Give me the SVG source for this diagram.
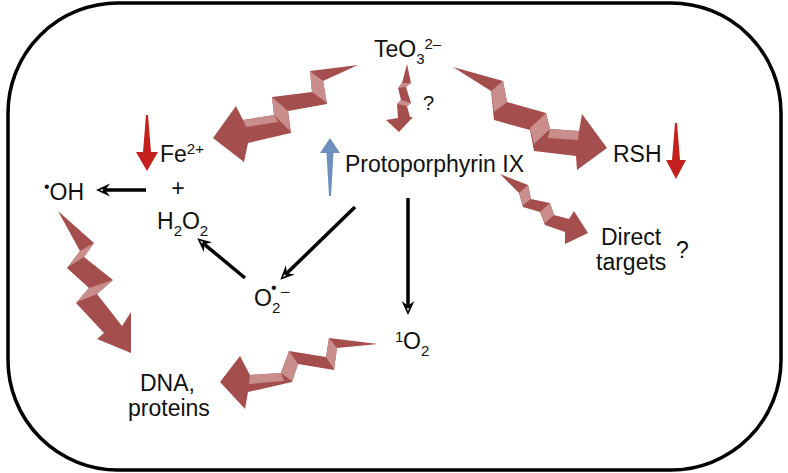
<svg xmlns="http://www.w3.org/2000/svg" width="788" height="473" viewBox="0 0 788 473">
<style>
text{font-family:"Liberation Sans",Arial,Helvetica,sans-serif;font-size:23px;fill:#111}
.sm{font-size:15px}
.zz{fill:#a44f4e}
.lt{fill:#c98d8b}
.conn line{stroke:#000;stroke-width:3.5;fill:none}
</style>
<defs>
<marker id="ah" viewBox="0 0 12 12" refX="6" refY="6" markerWidth="14" markerHeight="14" markerUnits="userSpaceOnUse" orient="auto">
<path d="M0,0.5 L12,6 L0,11.5 L4,6 Z" fill="#000"/>
<path d="M6,5.2 L9,6 L6,6.8 Z" fill="#fff"/>
</marker>
</defs>
<rect id="cell" x="8" y="3" width="773" height="467" rx="110" ry="110" fill="#fff" stroke="#000" stroke-width="3.5"/>

<g id="zigzags">
<g id="z-teo3-fe">
<polygon class="zz" points="358,65 310,71 312,92 272,97 274,115 243,120 236,106 213,138 244,162 248,143 291,133 288,111 327,104 323,81"/>
<polygon class="lt" points="310,71 323,81 327,103 312,92"/>
<polygon class="lt" points="272,97 288,111 290,131 274,115"/>
<polygon class="lt" points="243,120 274,115 278,122 246,127"/>
</g>
<g id="z-teo3-rsh">
<polygon class="zz" points="453,67 503,81 507,102 546,113 550,129 579,131 582,114 607,148 577,170 576,156 534,151 530,130 494,120 491,91"/>
<polygon class="lt" points="491,91 503,81 507,102 494,112"/>
<polygon class="lt" points="530,128 546,113 550,129 534,144"/>
<polygon class="lt" points="550,129 579,131 578,140 548,138"/>
</g>
<g id="z-teo3-pp">
<polygon class="zz" points="407,64 411,83 406,87 411,103 407,106 410,117 413,117 399,132 386,120 398,118 397,104 401,100 398,88 402,83"/>
<polygon class="lt" points="402,83 411,83 406,87 398,88"/>
<polygon class="lt" points="401,100 411,103 407,106 397,104"/>
</g>
<g id="z-pp-direct">
<polygon class="zz" points="500,174 528,185 531,199 550,203 554,215 569,219 574,211 588,233 565,244 565,232 545,225 540,212 523,207 519,193"/>
<polygon class="lt" points="519,193 528,185 531,199 523,205"/>
<polygon class="lt" points="540,212 550,203 554,215 545,223"/>
</g>
<g id="z-oh-dna">
<polygon class="zz" points="58,211 94,243 84,257 113,280 97,294 122,326 131,312 131,353 97,339 104,333 76,303 89,288 67,268 80,251"/>
<polygon class="lt" points="80,251 94,243 84,257 68,267"/>
<polygon class="lt" points="89,288 113,280 97,294 77,302"/>
</g>
<g id="z-1o2-dna">
<polygon class="zz" points="378,344 329,338 326,357 289,351 281,373 250,375 240,356 220,382 245,409 248,392 292,382 298,364 334,370 337,348"/>
<polygon class="lt" points="329,338 337,348 334,369 326,357"/>
<polygon class="lt" points="289,351 298,364 292,381 281,373"/>
<polygon class="lt" points="250,375 281,373 284,381 249,384"/>
</g>
</g>

<g id="level-arrows">
<path id="fe-down" d="M146,115 L148,115 L151,152 L158,152 L147,171 L136,152 L143,152 Z" fill="#c3211d"/>
<path id="rsh-down" d="M675,123 L677,123 L680,160 L686,160 L676,179 L666,160 L672,160 Z" fill="#c3211d"/>
<path id="pp-up" d="M330,138 L340,153 L333.5,153 L331,196 L329,196 L326.5,153 L320,153 Z" fill="#6d8fbd"/>
</g>

<g class="conn" id="connectors">
<line x1="146" y1="190" x2="103" y2="190" marker-end="url(#ah)"/>
<line x1="245" y1="278" x2="202.6" y2="242.8" marker-end="url(#ah)"/>
<line x1="355" y1="207" x2="285.3" y2="274.8" marker-end="url(#ah)"/>
<line x1="408" y1="198" x2="408" y2="308" marker-end="url(#ah)"/>
</g>

<g id="n-teo3"><text x="374" y="57">TeO<tspan class="sm" dy="7">3</tspan><tspan class="sm" dy="-15">2–</tspan></text></g>
<g id="n-q1"><text x="423" y="110" style="font-size:20px">?</text></g>
<g id="n-pp"><text x="345" y="172">Protoporphyrin IX</text></g>
<g id="n-rsh"><text x="613" y="162">RSH</text></g>
<g id="n-direct"><text x="601" y="245">Direct</text><text x="596" y="270">targets</text><text x="676" y="258">?</text></g>
<g id="n-fe"><text x="160" y="162">Fe<tspan class="sm" dy="-8">2+</tspan></text></g>
<g id="n-plus"><text x="178" y="196" text-anchor="middle">+</text></g>
<g id="n-oh"><text x="44" y="200"><tspan style="font-size:16px" dy="-8">•</tspan><tspan dy="8">OH</tspan></text></g>
<g id="n-h2o2"><text x="157" y="229">H<tspan class="sm" dy="7">2</tspan><tspan dy="-7">O</tspan><tspan class="sm" dy="7">2</tspan></text></g>
<g id="n-o2"><text x="254" y="306">O</text><text class="sm" x="272" y="313">2</text><text x="271" y="293" style="font-size:16px">•</text><text class="sm" x="281" y="296">–</text></g>
<g id="n-1o2"><text class="sm" x="395" y="342">1</text><text x="403" y="349">O<tspan class="sm" dy="7">2</tspan></text></g>
<g id="n-dna"><text x="140" y="391">DNA,</text><text x="128" y="416">proteins</text></g>
</svg>
